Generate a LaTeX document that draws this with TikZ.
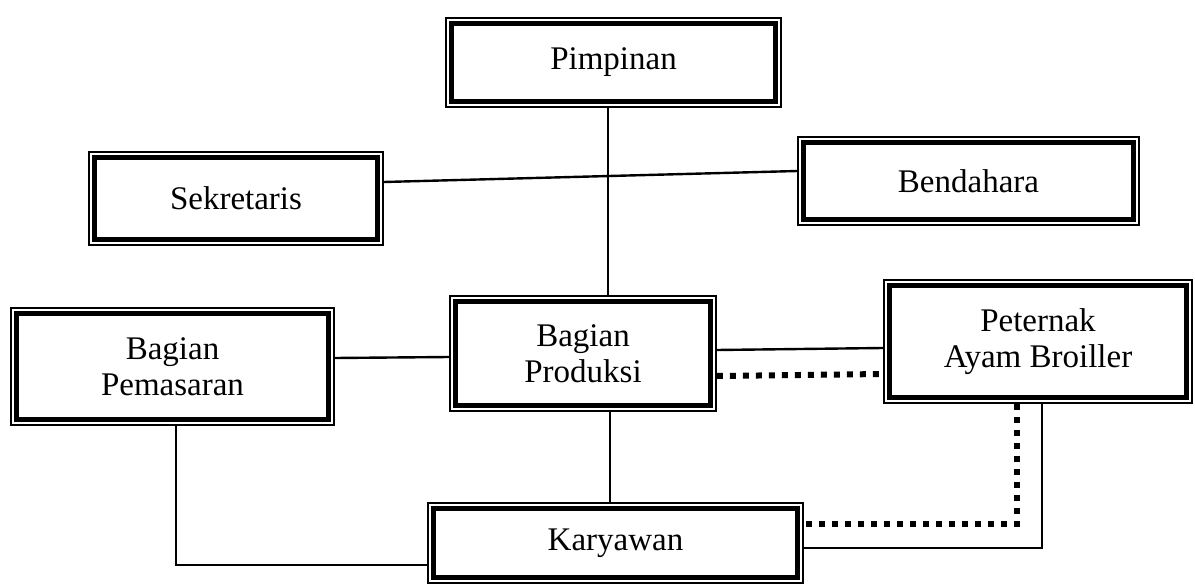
\documentclass[tikz,border=0pt]{standalone}
\usepackage{fontspec}
\setmainfont{Liberation Serif}
\begin{document}
\begin{tikzpicture}[x=1pt,y=-1pt,
  box/.style={draw, line width=1.6pt, inner sep=0pt, align=center,
    font=\fontsize{33}{36}\selectfont},
  conn/.style={line width=2.4pt},
  dots/.style={line width=6pt, dash pattern=on 6pt off 7pt}]
\useasboundingbox (0,0) rectangle (1195,586);
\node[box, minimum width=335pt, minimum height=89pt] (pim) at (613.5,62.5) {Pimpinan};
\node[box, minimum width=294pt, minimum height=93pt] (sek) at (236,198.5) {Sekretaris};
\node[box, minimum width=341pt, minimum height=88pt] (ben) at (968.5,181) {Bendahara};
\node[box, minimum width=323pt, minimum height=117pt] (pem) at (172.5,366.5) {Bagian\\Pemasaran};
\node[box, minimum width=266pt, minimum height=115pt] (prod) at (583,353.5) {Bagian\\Produksi};
\node[box, minimum width=308pt, minimum height=123pt] (pet) at (1038,341.5) {Peternak\\Ayam Broiller};
\node[box, minimum width=375pt, minimum height=80pt] (kar) at (615.5,543) {Karyawan};
\foreach \n in {pim,sek,ben,pem,prod,pet,kar}
  \draw[line width=5pt] ([xshift=6pt,yshift=-6pt]\n.north west) rectangle ([xshift=-6pt,yshift=6pt]\n.south east);
% connectors
\draw[conn] ([xshift=-5.5pt]pim.south) -- ([xshift=-5.5pt]pim.south |- prod.north);
\draw[conn] ([yshift=16.5pt]sek.east) -- ([yshift=10pt]ben.west);
\draw[conn] ([yshift=8.5pt]pem.east) -- ([yshift=-3.5pt]prod.west);
\draw[conn] ([yshift=3.5pt]prod.east) -- ([yshift=-6.5pt]pet.west);
\draw[dots] ([yshift=-22.5pt]prod.east) -- ([yshift=-32.5pt]pet.west);
\draw[conn] ([xshift=27pt]prod.south) -- ([xshift=-5.5pt]kar.north);
\draw[conn] ([xshift=3.5pt]pem.south) |- ([yshift=-22pt]kar.west);
\draw[conn] ([xshift=4pt]pet.south) |- ([yshift=-5pt]kar.east);
\draw[dots] ([xshift=-21pt]pet.south) |- ([yshift=19pt]kar.east);
\end{tikzpicture}
\end{document}
